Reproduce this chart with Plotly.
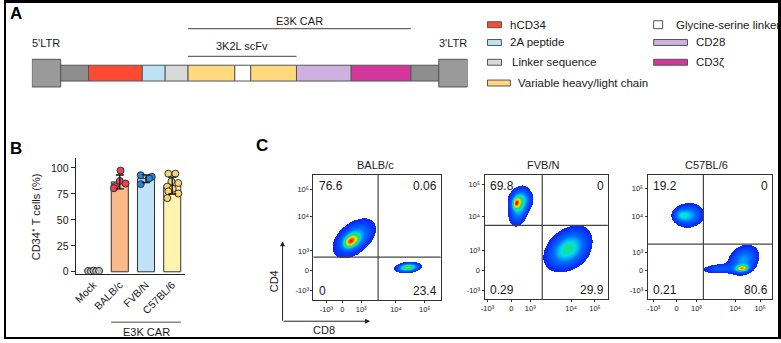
import numpy as np
import plotly.graph_objects as go

FIG_W, FIG_H = 781, 343
FONT = "Liberation Sans, Arial, Helvetica, sans-serif"
TXT = "#1a1a1a"

# ---------------- Panel A : vector construct ----------------
ltr_length = 29
segment_lengths = [28, 54, 23, 23, 47, 16, 46, 55, 60, 28]
segment_colors = ["#8e8e8e", "#ff4a32", "#bde2f8", "#d9d9d9", "#ffd97c",
                  "#ffffff", "#ffd97c", "#cfb1df", "#d4379b", "#8e8e8e"]
ltr_color = "#9a9a9a"
ltr_labels = ["5'LTR", "3'LTR"]
car_segments = (4, 8)    # E3K CAR: first VH/VL .. CD3z
scfv_segments = (4, 6)   # 3K2L scFv: VH .. VL
legend_left = [("hCD34", "#ff4a32"), ("2A peptide", "#bde2f8"),
               ("Linker sequence", "#d9d9d9"), ("Variable heavy/light chain", "#ffd97c")]
legend_right = [("Glycine-serine linker", "#ffffff"), ("CD28", "#cfb1df"), ("CD3ζ", "#d4379b")]

# ---------------- Panel B : CD34+ T cells ----------------
groups = ["Mock", "BALB/c", "FVB/N", "C57BL/6"]
group_values = [
    [0.8, 0.4, 1.1, 0.6, 0.9],
    [97.5, 87.5, 85.0, 82.5, 80.5],
    [93.0, 91.5, 84.5, 90.0],
    [94.5, 94.5, 87.0, 85.5, 82.0, 80.0, 77.5, 75.5, 71.0],
]
group_jitter = [
    [-0.21, -0.1, 0.0, 0.1, 0.21],
    [0.03, 0.0, 0.22, -0.18, -0.22],
    [-0.2, 0.22, -0.2, 0.12],
    [-0.15, 0.12, -0.03, 0.23, -0.19, 0.02, -0.15, 0.23, -0.19],
]
bar_fill = ["#d9d9d9", "#f9b98b", "#bfe2f8", "#fff3b0"]
dot_fill = ["#bdbdbd", "#ef4156", "#1d87e2", "#f7d56e"]

# ---------------- Panel C : flow cytometry ----------------
flow_titles = ["BALB/c", "FVB/N", "C57BL/6"]
flow_quadrants = [["76.6", "0.06", "0", "23.4"],
                  ["69.8", "0", "0.29", "29.9"],
                  ["19.2", "0", "0.21", "80.6"]]
flow_gate_x = [50.8, 46.8, 44.8]
flow_gate_y = [34.6, 59.5, 44.4]
flow_xtick_pos = [[10.2, 22.7, 37.5, 64.8, 87.5],
                  [2.4, 21.8, 37.1, 70.2, 89.5],
                  [4.8, 23.2, 39.2, 70.4, 90.4]]
flow_ytick_pos = [[7.9, 23.6, 39.4, 66.9, 88.2],
                  [7.1, 23.0, 39.7, 66.7, 92.1],
                  [7.1, 23.0, 38.1, 66.7, 88.9]]
flow_tick_text = ["-10³", "0", "10³", "10⁴", "10⁵"]
# populations: (centre x, centre y, half-extent major, half-extent minor, angle deg, peak density)
flow_populations = [
    [(32.0, 49.5, 20, 12, 40, 0.45), (29.5, 47.0, 8, 5.5, 40, 0.55),
     (74.2, 26.4, 11, 4.5, 6, 0.66)],
    [(28.0, 74.0, 16, 8, 78, 0.42), (29.5, 80.5, 9, 8, 0, 0.25), (25.8, 77.5, 5.5, 3.5, 78, 0.5),
     (67.0, 41.0, 22, 14.5, 40, 0.45), (71.5, 37.0, 9, 7, 40, 0.12)],
    [(33.0, 67.5, 12.5, 10, 10, 0.4), (26.5, 68.0, 5, 4.5, 0, 0.2),
     (77.0, 31.5, 14, 11, 40, 0.38), (75.7, 24.8, 7, 3.5, 5, 0.62), (57.0, 24.5, 12, 3.5, 3, 0.25)],
]
THRESH = 0.08
flow_box_px = [(311, 439, 177, 304), (483, 607, 177, 303), (647, 772, 177, 303)]
flow_title_px = [(373, 167), (542, 167), (706, 167)]

jet = [[0.0, "rgb(10,35,250)"], [0.25, "rgb(0,115,255)"], [0.42, "rgb(0,225,230)"],
       [0.56, "rgb(40,220,70)"], [0.72, "rgb(240,240,0)"], [0.86, "rgb(255,130,0)"],
       [1.0, "rgb(225,0,0)"]]


def px_x(x):
    return x / FIG_W


def px_y(y):
    return 1 - y / FIG_H


annotations = []
shapes = []


def note(text, x, y, xref="paper", yref="paper", size=10, xanchor="center", yanchor="middle", **kw):
    d = dict(x=x, y=y, xref=xref, yref=yref, text=text, showarrow=False, xanchor=xanchor, yanchor=yanchor,
             font=dict(size=size, color=kw.pop("color", TXT), family=FONT))
    d.update(kw)
    annotations.append(d)


fig = go.Figure()

# ---- Panel A bars ----
lengths_all = [ltr_length] + segment_lengths + [ltr_length]
colors_all = [ltr_color] + segment_colors + [ltr_color]
widths_all = [28] + [16] * len(segment_lengths) + [28]
bases = list(np.concatenate([[0], np.cumsum(lengths_all)[:-1]]).astype(float))
total_len = float(sum(lengths_all))
fig.add_trace(go.Bar(orientation="h", y=[0] * len(lengths_all), x=lengths_all, base=bases,
                     width=widths_all, marker=dict(color=colors_all, line=dict(color="#555555", width=1)),
                     xaxis="x", yaxis="y", showlegend=False, hoverinfo="skip"))
car_x0 = bases[1 + car_segments[0]]
car_x1 = bases[1 + car_segments[1]] + segment_lengths[car_segments[1]]
scfv_x0 = bases[1 + scfv_segments[0]]
scfv_x1 = bases[1 + scfv_segments[1]] + segment_lengths[scfv_segments[1]]
for (x0, x1, yl, lab, yt) in [(car_x0, car_x1, 45, "E3K CAR", 53), (scfv_x0, scfv_x1, 17, "3K2L scFv", 27)]:
    fig.add_trace(go.Scatter(x=[x0, x1], y=[yl, yl], mode="lines", line=dict(color="#666666", width=1.3),
                             xaxis="x", yaxis="y", showlegend=False, hoverinfo="skip"))
    note(lab, (x0 + x1) / 2, yt, xref="x", yref="y", size=11)
for lab, xc in zip(ltr_labels, [ltr_length / 2, total_len - ltr_length / 2]):
    note(lab, xc, 30, xref="x", yref="y", size=11)

# legend of panel A
left_rows = [(25, 486, 500, 507), (43, 486, 500, 507), (63, 486, 500, 509), (84, 486, 509, 515)]
for (lab, col), (yc, x0, x1, xt) in zip(legend_left, left_rows):
    shapes.append(dict(type="rect", xref="paper", yref="paper", x0=px_x(x0), x1=px_x(x1),
                       y0=px_y(yc + 3), y1=px_y(yc - 3), fillcolor=col, line=dict(color="#555555", width=1)))
    note(lab, px_x(xt), px_y(yc), size=11.5, xanchor="left")
right_rows = [(25, 653, 662, 673, 4), (43, 653, 687, 694, 3), (63, 653, 687, 694, 3)]
for (lab, col), (yc, x0, x1, xt, hh) in zip(legend_right, right_rows):
    shapes.append(dict(type="rect", xref="paper", yref="paper", x0=px_x(x0), x1=px_x(x1),
                       y0=px_y(yc + hh), y1=px_y(yc - hh), fillcolor=col, line=dict(color="#555555", width=1)))
    note(lab, px_x(xt), px_y(yc), size=11.5, xanchor="left")

# ---- Panel B ----
means = [float(np.mean(v)) for v in group_values]
sds = [float(np.std(v, ddof=1)) for v in group_values]
xpos = list(range(len(groups)))
fig.add_trace(go.Bar(x=xpos, y=means, width=0.65, marker=dict(color=bar_fill, line=dict(color="#333333", width=1)),
                     xaxis="x2", yaxis="y2", showlegend=False, hoverinfo="skip"))
for i, (vals, jit) in enumerate(zip(group_values, group_jitter)):
    fig.add_trace(go.Scatter(x=[i + j for j in jit], y=vals, mode="markers",
                             marker=dict(size=7, color=dot_fill[i], line=dict(color="#333333", width=1)),
                             xaxis="x2", yaxis="y2", showlegend=False, hoverinfo="skip"))
fig.add_trace(go.Scatter(x=xpos[1:], y=means[1:], mode="markers", marker=dict(size=1, color="rgba(0,0,0,0)"),
                         error_y=dict(type="data", array=sds[1:], color="#111111", thickness=1.3, width=4),
                         xaxis="x2", yaxis="y2", showlegend=False, hoverinfo="skip"))
shapes.append(dict(type="line", xref="x2", yref="paper", x0=1 - 0.33, x1=3 + 0.33,
                   y0=px_y(326), y1=px_y(326), line=dict(color="#888888", width=1.5)))
note("E3K CAR", 2, px_y(336), xref="x2", size=11)
note("CD34⁺ T cells (%)", px_x(33), px_y(219), size=11, textangle=-90)

# ---- Panel C ----
grid = np.linspace(0, 100, 251)
GX, GY = np.meshgrid(grid, grid)
for p in range(3):
    xa = "x%d" % (p + 3)
    ya = "y%d" % (p + 3)
    Z = np.zeros_like(GX)
    for (cx, cy, a, b, ang, peak) in flow_populations[p]:
        k = np.sqrt(2 * np.log(peak / THRESH))
        sa, sb = a / k, b / k
        th = np.deg2rad(ang)
        u = (GX - cx) * np.cos(th) + (GY - cy) * np.sin(th)
        v = -(GX - cx) * np.sin(th) + (GY - cy) * np.cos(th)
        Z += peak * np.exp(-0.5 * ((u / sa) ** 2 + (v / sb) ** 2))
    zlist = [[(float(val) if val >= THRESH else None) for val in row] for row in Z]
    fig.add_trace(go.Heatmap(x=grid, y=grid, z=zlist, colorscale=jet, zmin=THRESH, zmax=1.0,
                             showscale=False, hoverinfo="skip", zsmooth=False, xaxis=xa, yaxis=ya))
    gx, gy = flow_gate_x[p], flow_gate_y[p]
    fig.add_trace(go.Scatter(x=[gx, gx, None, 0, 100], y=[0, 100, None, gy, gy], mode="lines",
                             line=dict(color="#444444", width=1.2), xaxis=xa, yaxis=ya,
                             showlegend=False, hoverinfo="skip"))
    q = flow_quadrants[p]
    for text, xx, yy, anc in [(q[0], 0.03, 0.91, "left"), (q[1], 0.985, 0.91, "right"),
                              (q[2], 0.03, 0.075, "left"), (q[3], 0.985, 0.075, "right")]:
        note(text, xx, yy, xref=xa + " domain", yref=ya + " domain", size=12, xanchor=anc)
    tx, ty = flow_title_px[p]
    note(flow_titles[p], px_x(tx), px_y(ty), size=11)

# CD4 / CD8 arrows
annotations.append(dict(x=px_x(280), y=px_y(244), xref="paper", yref="paper", ax=0, ay=81, text="",
                        showarrow=True, arrowhead=2, arrowsize=1, arrowwidth=1, arrowcolor="#222"))
annotations.append(dict(x=px_x(368), y=px_y(325), xref="paper", yref="paper", ax=-88, ay=0, text="",
                        showarrow=True, arrowhead=2, arrowsize=1, arrowwidth=1, arrowcolor="#222"))
note("CD4", px_x(271), px_y(285), size=11, textangle=-90)
note("CD8", px_x(322), px_y(334), size=11)

# panel letters
for lab, (lx, ly) in zip(["A", "B", "C"], [(12, 14), (12, 150), (259, 147)]):
    note("<b>%s</b>" % lab, px_x(lx), px_y(ly), size=17, color="#000")

# black frame
for (x0, x1, y0, y1) in [(0, 781, 0, 3), (0, 2, 0, 343), (778, 781, 0, 343), (0, 781, 341, 343)]:
    shapes.append(dict(type="rect", xref="paper", yref="paper", x0=px_x(x0), x1=px_x(x1),
                       y0=px_y(y1), y1=px_y(y0), fillcolor="#000", line=dict(width=0), layer="above"))

layout = dict(
    width=FIG_W, height=FIG_H, margin=dict(l=0, r=0, t=0, b=0),
    paper_bgcolor="white", plot_bgcolor="rgba(0,0,0,0)", barmode="overlay",
    font=dict(family=FONT, color=TXT), showlegend=False,
    annotations=annotations, shapes=shapes,
    xaxis=dict(domain=[px_x(28), px_x(466)], range=[0, total_len], visible=False, anchor="y", fixedrange=True),
    yaxis=dict(domain=[px_y(110), px_y(0)], range=[-36, 74], visible=False, anchor="x", fixedrange=True),
    xaxis2=dict(domain=[px_x(72), px_x(182)], range=[-0.684, 3.49], tickvals=xpos, ticktext=groups,
                tickangle=-45, showline=True, linecolor="#222", linewidth=1, ticks="", showgrid=False,
                zeroline=False, tickfont=dict(size=10.5, color=TXT), anchor="y2"),
    yaxis2=dict(domain=[px_y(277), px_y(160)], range=[-1.9, 109.5], tickvals=[0, 25, 50, 75, 100],
                ticks="outside", ticklen=4, tickcolor="#222", showline=True, linecolor="#222", linewidth=1,
                showgrid=False, zeroline=False, tickfont=dict(size=10.5, color=TXT), anchor="x2"),
)
for p in range(3):
    x0, x1, y0, y1 = flow_box_px[p]
    layout["xaxis%d" % (p + 3)] = dict(domain=[px_x(x0), px_x(x1)], range=[0, 100],
                                       tickvals=flow_xtick_pos[p], ticktext=flow_tick_text,
                                       ticks="outside", ticklen=2, tickcolor="#333", showline=True, mirror=True,
                                       linecolor="#333", linewidth=1, showgrid=False, zeroline=False,
                                       tickfont=dict(size=7.5, color=TXT), anchor="y%d" % (p + 3))
    layout["yaxis%d" % (p + 3)] = dict(domain=[px_y(y1), px_y(y0)], range=[0, 100],
                                       tickvals=flow_ytick_pos[p], ticktext=flow_tick_text,
                                       ticks="outside", ticklen=2, tickcolor="#333", showline=True, mirror=True,
                                       linecolor="#333", linewidth=1, showgrid=False, zeroline=False,
                                       tickfont=dict(size=7.5, color=TXT), anchor="x%d" % (p + 3))
fig.update_layout(**layout)
fig.write_html("out.html")
